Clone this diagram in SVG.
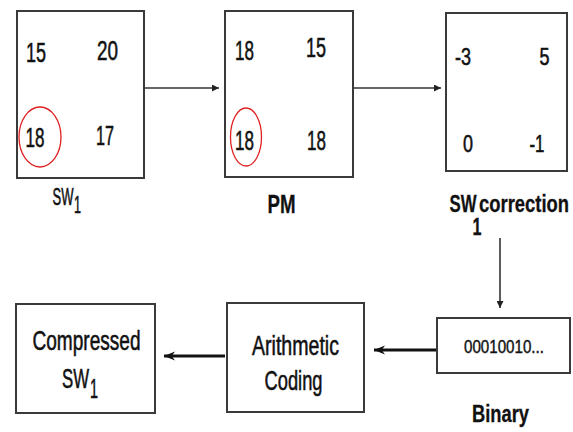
<svg xmlns="http://www.w3.org/2000/svg" width="573" height="432" viewBox="0 0 573 432">
<style>
.box{fill:#fff;stroke:#3a3a3a;stroke-width:2}
.t{font-family:"Liberation Sans",Arial,sans-serif;fill:#111;stroke:#111;stroke-width:0.55;text-anchor:middle}
.b{font-weight:bold;stroke-width:0.3}
.ring{fill:none;stroke:#e02020;stroke-width:1.3}
.thin{stroke:#333;stroke-width:1.6;fill:none}
.thick{stroke:#111;stroke-width:3.2;fill:none}
</style>
<defs>
<marker id="ah" viewBox="0 0 10 10" refX="10" refY="5" markerWidth="7" markerHeight="7" markerUnits="userSpaceOnUse" orient="auto">
<path d="M0,0 L10,5 L0,10 z" fill="#222"/>
</marker>
<marker id="ahb" viewBox="0 0 10 10" refX="10" refY="5" markerWidth="11" markerHeight="11" markerUnits="userSpaceOnUse" orient="auto">
<path d="M0,1 L10,5 L0,9 L3,5 z" fill="#111"/>
</marker>
</defs>
<rect width="573" height="432" fill="#fff"/>
<g id="connectors">
<line class="thin" x1="145" y1="88" x2="219" y2="88" marker-end="url(#ah)"/>
<line class="thin" x1="354" y1="88" x2="441" y2="88" marker-end="url(#ah)"/>
<line class="thin" x1="500" y1="238" x2="500" y2="308" marker-end="url(#ah)"/>
<line class="thick" x1="436" y1="350" x2="374" y2="350" marker-end="url(#ahb)"/>
<line class="thick" x1="225" y1="356" x2="164" y2="356" marker-end="url(#ahb)"/>
</g>
<g id="sw1">
<rect class="box" x="17" y="11" width="127" height="167"/>
<text class="t" x="36" y="62" font-size="27" textLength="20" lengthAdjust="spacingAndGlyphs">15</text>
<text class="t" x="107.5" y="60" font-size="27" textLength="21" lengthAdjust="spacingAndGlyphs">20</text>
<text class="t" x="35" y="147" font-size="27" textLength="19" lengthAdjust="spacingAndGlyphs">18</text>
<text class="t" x="105" y="145" font-size="27" textLength="18" lengthAdjust="spacingAndGlyphs">17</text>
<ellipse class="ring" cx="40" cy="137" rx="21" ry="30"/>
<text class="t" x="63" y="205" font-size="23" textLength="21" lengthAdjust="spacingAndGlyphs">SW</text>
<text class="t" x="77.5" y="213" font-size="24" textLength="7" lengthAdjust="spacingAndGlyphs">1</text>
</g>
<g id="pm">
<rect class="box" x="225" y="11" width="128" height="166"/>
<text class="t" x="244.5" y="60" font-size="28" textLength="19" lengthAdjust="spacingAndGlyphs">18</text>
<text class="t" x="316" y="57" font-size="27" textLength="20" lengthAdjust="spacingAndGlyphs">15</text>
<text class="t" x="244.5" y="150" font-size="28" textLength="19" lengthAdjust="spacingAndGlyphs">18</text>
<text class="t" x="316.5" y="150" font-size="28" textLength="19" lengthAdjust="spacingAndGlyphs">18</text>
<ellipse class="ring" cx="246" cy="137" rx="15.5" ry="29"/>
<text class="t b" x="281.5" y="213" font-size="25" textLength="28" lengthAdjust="spacingAndGlyphs">PM</text>
</g>
<g id="correction">
<rect class="box" x="446" y="13" width="121" height="158"/>
<text class="t" x="463" y="65" font-size="23" textLength="16" lengthAdjust="spacingAndGlyphs">-3</text>
<text class="t" x="544.5" y="65" font-size="23" textLength="10" lengthAdjust="spacingAndGlyphs">5</text>
<text class="t" x="468" y="152" font-size="23" textLength="10" lengthAdjust="spacingAndGlyphs">0</text>
<text class="t" x="537" y="152" font-size="23" textLength="15" lengthAdjust="spacingAndGlyphs">-1</text>
<text class="t b" x="463" y="212" font-size="23" textLength="27" lengthAdjust="spacingAndGlyphs">SW</text>
<text class="t b" x="524" y="212" font-size="23" textLength="90" lengthAdjust="spacingAndGlyphs">correction</text>
<text class="t b" x="477" y="235" font-size="23" textLength="9" lengthAdjust="spacingAndGlyphs">1</text>
</g>
<g id="binary">
<rect class="box" x="437" y="318" width="133" height="55"/>
<text class="t" x="504" y="353" font-size="18" textLength="80" lengthAdjust="spacingAndGlyphs" style="stroke-width:0.4">00010010...</text>
<text class="t b" x="500.5" y="422" font-size="23" textLength="57" lengthAdjust="spacingAndGlyphs">Binary</text>
</g>
<g id="arithmetic">
<rect class="box" x="227" y="303" width="137" height="109"/>
<text class="t" x="295.5" y="355" font-size="27" textLength="87" lengthAdjust="spacingAndGlyphs">Arithmetic</text>
<text class="t" x="293.5" y="390" font-size="27" textLength="58" lengthAdjust="spacingAndGlyphs">Coding</text>
</g>
<g id="compressed">
<rect class="box" x="16" y="304" width="139" height="109"/>
<text class="t" x="86.5" y="350" font-size="27" textLength="108" lengthAdjust="spacingAndGlyphs">Compressed</text>
<text class="t" x="75.5" y="388" font-size="27" textLength="27" lengthAdjust="spacingAndGlyphs">SW</text>
<text class="t" x="94" y="398" font-size="28" textLength="8" lengthAdjust="spacingAndGlyphs">1</text>
</g>
</svg>
